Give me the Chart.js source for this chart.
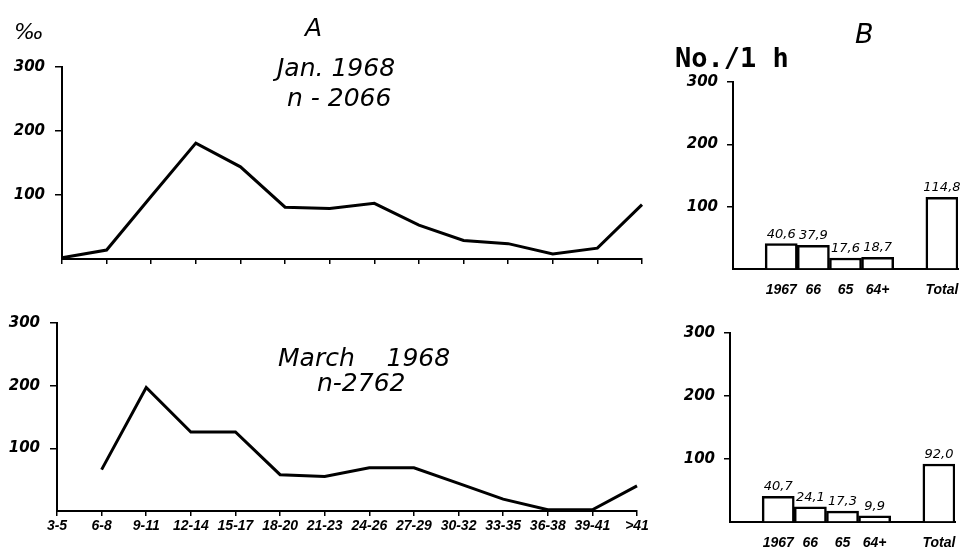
<!DOCTYPE html>
<html>
<head>
<meta charset="utf-8">
<script src="https://cdn.jsdelivr.net/npm/chart.js@4"></script>
<style>
  body { margin: 0; background: #fff; }
  #wrap { position: relative; width: 973px; height: 552px; overflow: hidden; background: #fff; }
  canvas { position: absolute; }
  .t { position: absolute; font-family: "DejaVu Sans"; font-style: italic; line-height: 1; white-space: pre; color: #000; }
  .mono { font-family: "DejaVu Sans Mono"; font-style: normal; font-weight: bold; }
</style>
</head>
<body>
<div id="wrap">
  <canvas id="janLine" width="700" height="280" style="left:0;top:0"></canvas>
  <canvas id="marLine" width="700" height="272" style="left:0;top:280px"></canvas>
  <canvas id="janBar" width="293" height="300" style="left:680px;top:0"></canvas>
  <canvas id="marBar" width="293" height="252" style="left:680px;top:300px"></canvas>

  <div class="t" style="left:305px;top:15px;font-size:25px">A</div>
  <div class="t" style="left:855px;top:20px;font-size:27px">B</div>
  <div class="t" style="left:14px;top:21px;font-size:22px">‰</div>
  <div class="t mono" style="left:675px;top:44px;font-size:27px">No./1 h</div>
  <div class="t" style="left:277px;top:55px;font-size:25px">Jan. 1968</div>
  <div class="t" style="left:287px;top:85px;font-size:25px">n - 2066</div>
  <div class="t" style="left:278px;top:345px;font-size:25px">March    1968</div>
  <div class="t" style="left:317px;top:370px;font-size:25px">n-2762</div>
</div>
<script>
// age classes (days) on the x axis of panel A
const ageClasses = ["3-5","6-8","9-11","12-14","15-17","18-20","21-23","24-26","27-29","30-32","33-35","36-38","39-41",">41"];
// per mille, Jan. 1968 (n = 2066)
const janShare = [2, 14, 98, 181, 144, 81, 79, 87, 53, 29, 24, 8, 17, 85];
// per mille, March 1968 (n = 2762)
const marShare = [null, 66, 197, 126, 126, 58, 55, 69, 69, 44, 19, 2, 2, 40];

// panel B: year classes, blank slots are spacing
const yearClasses = ["", "1967", "66", "65", "64+", "", "Total"];
const janCatch = [null, 40.6, 37.9, 17.6, 18.7, null, 114.8];
const marCatch = [null, 40.7, 24.1, 17.3, 9.9, null, 92.0];

const yTicks = [100, 200, 300];

const tickFont = { family: "DejaVu Sans", style: "italic", weight: "bold", size: 15 };
const xFont = { family: "Liberation Sans", style: "italic", weight: "bold", size: 14 };

function yScale(width, tickLen, pad) {
  return {
    min: 0, max: 300,
    afterFit: s => { s.width = width; },
    afterBuildTicks: s => { s.ticks = [0].concat(yTicks).map(v => ({ value: v })); },
    ticks: { color: "#000", font: tickFont, padding: pad, callback: v => v === 0 ? "" : v },
    grid: { drawOnChartArea: false, tickLength: tickLen, lineWidth: 1.5,
            color: c => c.tick && c.tick.value === 0 ? "rgba(0,0,0,0)" : "#000" },
    border: { color: "#000", width: 2 }
  };
}

function lineChart(id, values, o) {
  new Chart(document.getElementById(id), {
    type: "line",
    data: {
      labels: ageClasses,
      datasets: [{ data: values, borderColor: "#000", borderWidth: 3, pointRadius: 0, tension: 0, clip: false }]
    },
    options: {
      responsive: false, devicePixelRatio: 1, animation: false,
      layout: { padding: { top: o.top, right: o.right, left: 0, bottom: 0 } },
      plugins: { legend: { display: false }, tooltip: { enabled: false } },
      scales: {
        x: {
          offset: false,
          afterFit: s => { s.height = o.xh; },
          ticks: { display: o.labels, color: "#000", font: xFont, padding: 2, maxRotation: 0, autoSkip: false },
          grid: { drawOnChartArea: false, tickLength: 5, color: "#000", lineWidth: 1.5 },
          border: { color: "#000", width: 2 }
        },
        y: yScale(o.yw, 7, 10)
      }
    }
  });
}

const valueLabels = {
  id: "valueLabels",
  afterDatasetsDraw(chart) {
    const ctx = chart.ctx;
    const vals = chart.data.datasets[0].data;
    ctx.save();
    ctx.font = "italic 13px 'DejaVu Sans'";
    ctx.textAlign = "center";
    ctx.textBaseline = "bottom";
    ctx.fillStyle = "#000";
    chart.getDatasetMeta(0).data.forEach((bar, i) => {
      if (vals[i] == null) return;
      ctx.fillText(vals[i].toFixed(1).replace(".", ","), bar.x, bar.y - 3);
    });
    ctx.restore();
  }
};

function barChart(id, values, o) {
  new Chart(document.getElementById(id), {
    type: "bar",
    data: {
      labels: yearClasses,
      datasets: [{ data: values, backgroundColor: "#fff", borderColor: "#000", borderWidth: 2.5,
                   barPercentage: 1, categoryPercentage: 1 }]
    },
    options: {
      responsive: false, devicePixelRatio: 1, animation: false,
      layout: { padding: { top: o.top, right: o.right, left: 0, bottom: 0 } },
      plugins: { legend: { display: false }, tooltip: { enabled: false } },
      scales: {
        x: {
          afterFit: s => { s.height = o.xh; },
          ticks: { color: "#000", font: xFont, padding: 5, maxRotation: 0, autoSkip: false },
          grid: { display: false },
          border: { color: "#000", width: 2 }
        },
        y: yScale(o.yw, 6, 9)
      }
    },
    plugins: [valueLabels]
  });
}

lineChart("janLine", janShare, { top: 67, right: 58, xh: 21, yw: 62, labels: false });
lineChart("marLine", marShare, { top: 43, right: 63, xh: 41, yw: 57, labels: true });
barChart("janBar", janCatch, { top: 82, right: 15, xh: 31, yw: 53 });
barChart("marBar", marCatch, { top: 33, right: 18, xh: 30, yw: 50 });
</script>
</body>
</html>
